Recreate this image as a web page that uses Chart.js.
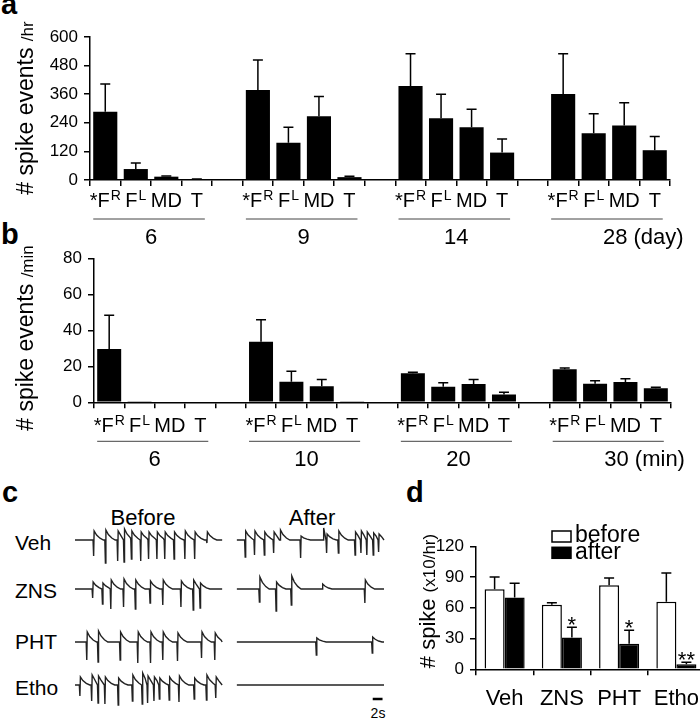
<!DOCTYPE html>
<html>
<head>
<meta charset="utf-8">
<title>spike events</title>
<script src="https://cdn.jsdelivr.net/npm/chart.js@4.4.1/dist/chart.umd.min.js"></script>
<style>
    body { margin: 0; width: 700px; height: 720px; overflow: hidden; background: #fff;
           font-family: "Liberation Sans", Arial, sans-serif; color: #000; position: relative; }
    canvas { position: absolute; }
    .panel { position: absolute; font-weight: bold; font-size: 29px; line-height: 1; }
    .head { position: absolute; transform: translate(-50%, -50%); font-size: 22px; line-height: 1; white-space: nowrap; }
    .row { position: absolute; transform: translateY(-50%); font-size: 21px; line-height: 1; }
</style>
</head>
<body>
<div class="panel" style="left:1px;top:-10px">a</div>
<div class="panel" style="left:1px;top:220px">b</div>
<div class="panel" style="left:2px;top:478px">c</div>
<div class="panel" style="left:406px;top:478px">d</div>

<div class="head" style="left:143px;top:518px">Before</div>
<div class="head" style="left:312px;top:518px">After</div>
<div class="row" style="left:15px;top:542px">Veh</div>
<div class="row" style="left:15px;top:590px">ZNS</div>
<div class="row" style="left:15px;top:641px">PHT</div>
<div class="row" style="left:15px;top:687px">Etho</div>
<div class="head" style="left:378px;top:713px;font-size:14px">2s</div>

<canvas id="chartA" width="700" height="250" style="left:0;top:0"></canvas>
<canvas id="chartB" width="700" height="240" style="left:0;top:240px"></canvas>
<canvas id="chartC" width="400" height="220" style="left:0;top:500px"></canvas>
<canvas id="chartD" width="330" height="250" style="left:390px;top:470px"></canvas>

<script>
"use strict"

/* a: spike events /hr (mean, SE), 6-28 days */
let regions = ["*F^R", "F^L", "MD", "T"];
let dayLabels = ["6", "9", "14", "28 (day)"];
let hrDay6 = [286, 46, 14, 3];
let hrDay9 = [378, 156, 268, 12];
let hrDay14 = [394, 259, 221, 115];
let hrDay28 = [361, 196, 229, 125];
let hrErr6 = [117, 25, 3, 1];
let hrErr9 = [125, 65, 82, 4];
let hrErr14 = [136, 101, 76, 57];
let hrErr28 = [169, 82, 95, 57];
let hrTicks = [0, 120, 240, 360, 480, 600];

/* b: spike events /min, 6-30 min */
let minLabels = ["6", "10", "20", "30 (min)"];
let minT6 = [29.6, 0.3, 0, 0];
let minT10 = [33.7, 11.4, 8.9, 0.3];
let minT20 = [16.1, 8.7, 10.2, 4.4];
let minT30 = [18.3, 10.3, 11.3, 7.8];
let minErr6 = [18.7, 0, 0, 0];
let minErr10 = [12.2, 5.8, 3.7, 0];
let minErr20 = [0.6, 2.2, 2.4, 1.2];
let minErr30 = [0.7, 1.7, 1.8, 0.5];
let minTicks = [0, 20, 40, 60, 80];

/* c: EEG traces, spike times (s) and sizes */
let vehBeforeT = [3.8, 6.2, 8.7, 10.0, 11.5, 13.4, 15.0, 16.7, 18.3, 20.2, 22.4, 24.4, 26.9];
let vehBeforeDown = [16, 23, 21, 22, 19, 21, 19, 19, 19, 19, 19, 19, 3];
let vehBeforeUp = [9, 10, 9, 11, 9, 8, 8, 8, 8, 8, 9, 8, 8];
let vehAfterT = [1.7, 3.6, 5.6, 7.5, 8.8, 13.0, 17.6, 18.3, 20.7, 24.1, 25.3, 26.5, 27.8, 28.9];
let vehAfterDown = [17, 15, 15, 13, 0, 18, 0, 13, 13, 15, 13, 15, 15, 12];
let vehAfterUp = [9, 9, 8, 8, 10, 4, 12, 6, 9, 8, 9, 8, 7, 6];
let znsBeforeT = [3.6, 5.6, 7.3, 9.9, 12.3, 15.3, 17.9, 21.6, 24.1, 25.5];
let znsBeforeDown = [9, 15, 20, 18, 20, 14, 16, 18, 21, 19];
let znsBeforeUp = [7, 6, 9, 10, 9, 8, 9, 8, 9, 6];
let znsAfterT = [4.6, 8.0, 11.1, 17.4, 26.1];
let znsAfterDown = [13, 22, 16, 0, 14];
let znsAfterUp = [12, 7, 13, 5, 9];
let phtBeforeT = [2.4, 4.7, 9.2, 12.8, 15.4, 17.9, 20.9, 25.8, 28.5];
let phtBeforeDown = [18, 20, 18, 21, 21, 18, 19, 16, 18];
let phtBeforeUp = [10, 11, 10, 10, 10, 10, 9, 10, 9];
let phtAfterT = [16.2, 27.6];
let phtAfterDown = [13, 11];
let phtAfterUp = [4, 5];
let ethoBeforeT = [1.0, 3.4, 4.7, 6.1, 8.8, 11.7, 13.7, 14.8, 16.1, 17.2, 19.2, 21.2, 24.3, 26.8, 28.7];
let ethoBeforeDown = [11, 16, 18, 19, 20, 16, 19, 18, 16, 14, 15, 17, 14, 15, 13];
let ethoBeforeUp = [8, 10, 9, 8, 7, 10, 12, 9, 8, 7, 8, 9, 7, 10, 8];
let ethoAfterT = [];
let ethoAfterDown = [];
let ethoAfterUp = [];
let traceSeconds = 30;
let scaleBarSeconds = 2;

/* d: # spike (x10/hr) */
let drugs = ["Veh", "ZNS", "PHT", "Etho"];
let spikeBefore = [78, 63, 82, 66];
let spikeBeforeErr = [12, 2, 7, 28];
let spikeAfter = [70, 31, 25, 5];
let spikeAfterErr = [14, 10, 13, 2];
let afterStars = ["", "*", "*", "**"];
let spikeTicks = [0, 30, 60, 90, 120];


const font = '"Liberation Sans", Arial, sans-serif';
Chart.defaults.font.family = font;
Chart.defaults.color = "#000";
Chart.defaults.animation = false;


// groups of 4 bars with an empty slot between them
function slots(groups, gap) {
    let out = [];
    groups.forEach((g, i) => {
        if (i) out.push(gap);
        out.push(...g);
    });
    return out;
}

function supText(ctx, text, x, y, size) {
    let parts = text.split("^");
    let small = Math.round(size * 0.68);
    ctx.font = size + "px " + font;
    let w1 = ctx.measureText(parts[0]).width;
    let w2 = 0;
    if (parts[1]) {
        ctx.font = small + "px " + font;
        w2 = ctx.measureText(parts[1]).width + 1;
    }
    let left = x - (w1 + w2) / 2;
    ctx.textAlign = "left";
    ctx.textBaseline = "alphabetic";
    ctx.font = size + "px " + font;
    ctx.fillText(parts[0], left, y);
    if (parts[1]) {
        ctx.font = small + "px " + font;
        ctx.fillText(parts[1], left + w1 + 1, y - size * 0.36);
    }
}


let errorBars = {
    id: "errorBars",
    afterDatasetsDraw(chart, args, opts) {
        let ctx = chart.ctx;
        let y = chart.scales.y;
        ctx.save();
        ctx.strokeStyle = "#000";
        ctx.lineWidth = 1.5;
        chart.data.datasets.forEach((ds, i) => {
            let errs = opts.errors[i];
            chart.getDatasetMeta(i).data.forEach((bar, j) => {
                let v = ds.data[j];
                let e = errs[j];
                if (v == null || !e) return;
                let top = y.getPixelForValue(v + e);
                ctx.beginPath();
                ctx.moveTo(bar.x, bar.y);
                ctx.lineTo(bar.x, top);
                ctx.moveTo(bar.x - 5, top);
                ctx.lineTo(bar.x + 5, top);
                ctx.stroke();
                if (opts.stars && opts.stars[i] && opts.stars[i][j]) {
                    ctx.fillStyle = "#000";
                    ctx.font = "22px " + font;
                    ctx.textAlign = "center";
                    ctx.textBaseline = "alphabetic";
                    ctx.fillText(opts.stars[i][j], bar.x, top + 5);
                }
            });
        });
        ctx.restore();
    }
};

let xLabels = {
    id: "xLabels",
    afterDraw(chart, args, opts) {
        let ctx = chart.ctx;
        let x = chart.scales.x;
        let base = chart.chartArea.bottom;
        ctx.save();
        ctx.fillStyle = "#000";
        chart.data.labels.forEach((lab, i) => {
            if (lab) supText(ctx, lab, x.getPixelForTick(i), base + opts.labelY, opts.size);
        });
        if (opts.groups) {
            let n = opts.groupSize;
            opts.groups.forEach((g, k) => {
                let first = k * (n + 1);
                let x1 = x.getPixelForTick(first) - 12;
                let x2 = x.getPixelForTick(first + n - 1) + 8;
                ctx.strokeStyle = "#444";
                ctx.lineWidth = 1;
                ctx.beginPath();
                ctx.moveTo(x1, base + 39);
                ctx.lineTo(x2, base + 39);
                ctx.stroke();

                let mid = (x.getPixelForTick(first) + x.getPixelForTick(first + n - 1)) / 2;
                let sp = g.indexOf(" ");
                ctx.font = "22px " + font;
                ctx.textBaseline = "alphabetic";
                if (sp < 0) {
                    ctx.textAlign = "center";
                    ctx.fillText(g, mid, base + 64);
                } else {
                    ctx.textAlign = "left";
                    ctx.fillText(g, mid - 6, base + 64);
                }
            });
        }
        ctx.restore();
    }
};

let sideTitle = {
    id: "sideTitle",
    afterDraw(chart, args, opts) {
        let ctx = chart.ctx;
        let widths = opts.parts.map(p => {
            ctx.font = p[1] + "px " + font;
            return ctx.measureText(p[0]).width;
        });
        let total = widths.reduce((a, b) => a + b, 0);
        ctx.save();
        ctx.translate(opts.x, opts.y);
        ctx.rotate(-Math.PI / 2);
        ctx.textAlign = "left";
        ctx.textBaseline = "alphabetic";
        ctx.fillStyle = "#000";
        let pos = -total / 2;
        let base = opts.parts[0][1] * 0.35;
        opts.parts.forEach((p, i) => {
            ctx.font = p[1] + "px " + font;
            ctx.fillText(p[0], pos, base);
            pos += widths[i];
        });
        ctx.restore();
    }
};

let boxLegend = {
    id: "boxLegend",
    afterDraw(chart, args, opts) {
        let ctx = chart.ctx;
        let area = chart.chartArea;
        ctx.save();
        chart.data.datasets.forEach((ds, i) => {
            let bx = area.left + opts.x;
            let by = area.top + opts.y + i * opts.step;
            ctx.fillStyle = ds.backgroundColor;
            ctx.fillRect(bx, by, 19, 11);
            ctx.strokeStyle = "#000";
            ctx.lineWidth = 1.5;
            ctx.strokeRect(bx, by, 19, 11);
            ctx.fillStyle = "#000";
            ctx.font = "23px " + font;
            ctx.textAlign = "left";
            ctx.textBaseline = "middle";
            ctx.fillText(ds.label, bx + 23, by + 5);
        });
        ctx.restore();
    }
};


function yAxis(max, step, width) {
    return {
        min: 0,
        max: max,
        afterFit: s => { s.width = width; },
        ticks: { stepSize: step, padding: 6, font: { size: 17 } },
        grid: { drawOnChartArea: false, tickLength: 6, color: "#000", lineWidth: 1.5 },
        border: { color: "#000", width: 1.5 }
    };
}

function xAxis(height) {
    return {
        offset: true,
        afterFit: s => { s.height = height; },
        ticks: { display: false, autoSkip: false },
        grid: { offset: true, drawOnChartArea: false, tickLength: 6, color: "#000", lineWidth: 1.5 },
        border: { color: "#000", width: 1.5 }
    };
}

function groupChart(id, values, errs, labels, groups, maxY, step, yWidth, xHeight, pad, title, labelY) {
    return new Chart(document.getElementById(id), {
        type: "bar",
        data: {
            labels: slots(groups.map(() => regions), ""),
            datasets: [{
                data: slots(values, null),
                backgroundColor: "#000",
                borderWidth: 0,
                categoryPercentage: 1,
                barPercentage: 0.79
            }]
        },
        options: {
            responsive: false,
            layout: { padding: pad },
            scales: { x: xAxis(xHeight), y: yAxis(maxY, step, yWidth) },
            plugins: {
                legend: { display: false },
                tooltip: { enabled: false },
                errorBars: { errors: [slots(errs, null)] },
                xLabels: { labelY: labelY, size: 20, groups: labels, groupSize: regions.length },
                sideTitle: title
            }
        },
        plugins: [errorBars, xLabels, sideTitle]
    });
}

groupChart("chartA",
    [hrDay6, hrDay9, hrDay14, hrDay28],
    [hrErr6, hrErr9, hrErr14, hrErr28],
    dayLabels, dayLabels,
    hrTicks[hrTicks.length - 1], hrTicks[1],
    90, 70, { top: 37, right: 30, left: 0, bottom: 0 },
    { x: 25, y: 108, parts: [["# spike events ", 23], ["/hr", 17]] }, 27);

groupChart("chartB",
    [minT6, minT10, minT20, minT30],
    [minErr6, minErr10, minErr20, minErr30],
    minLabels, minLabels,
    minTicks[minTicks.length - 1], minTicks[1],
    94, 77.7, { top: 18.3, right: 29, left: 0, bottom: 0 },
    { x: 25, y: 98, parts: [["# spike events ", 23], ["/min", 17]] }, 30);


/* c */
function tracePoints(times, downs, ups, start, base) {
    let pts = [{ x: start, y: base }];
    times.forEach((t, i) => {
        let next = i + 1 < times.length ? times[i + 1] - 0.15 : traceSeconds;
        let u = ups[i];
        let shape = [[t - 0.12, 0], [t, -downs[i]], [t + 0.1, u], [t + 0.6, u * 0.55], [t + 1.3, u * 0.2], [t + 2.0, 0]];
        shape.forEach(p => {
            if (p[0] < next) pts.push({ x: start + p[0], y: base + p[1] });
        });
    });
    pts.push({ x: start + traceSeconds, y: base });
    return pts;
}

let rowBase = [-20, -69, -122, -165];
let afterStart = 33;
let traceRows = [
    [vehBeforeT, vehBeforeDown, vehBeforeUp, vehAfterT, vehAfterDown, vehAfterUp],
    [znsBeforeT, znsBeforeDown, znsBeforeUp, znsAfterT, znsAfterDown, znsAfterUp],
    [phtBeforeT, phtBeforeDown, phtBeforeUp, phtAfterT, phtAfterDown, phtAfterUp],
    [ethoBeforeT, ethoBeforeDown, ethoBeforeUp, ethoAfterT, ethoAfterDown, ethoAfterUp]
];
let traceSets = [];
traceRows.forEach((r, i) => {
    traceSets.push({ data: tracePoints(r[0], r[1], r[2], 0, rowBase[i]) });
    traceSets.push({ data: tracePoints(r[3], r[4], r[5], afterStart, rowBase[i]) });
});
let barEnd = afterStart + traceSeconds - 0.3;
traceSets.push({
    data: [{ x: barEnd - scaleBarSeconds, y: -179 }, { x: barEnd, y: -179 }],
    borderColor: "#000",
    borderWidth: 2.5
});

new Chart(document.getElementById("chartC"), {
    type: "line",
    data: { datasets: traceSets },
    options: {
        responsive: false,
        layout: { padding: { left: 75, right: 16, top: 20, bottom: 10 } },
        scales: {
            x: { type: "linear", min: 0, max: afterStart + traceSeconds, display: false },
            y: { min: -190, max: 0, display: false }
        },
        elements: {
            point: { radius: 0 },
            line: { borderWidth: 1.4, borderColor: "#222", tension: 0 }
        },
        datasets: { line: { clip: false } },
        plugins: { legend: { display: false }, tooltip: { enabled: false } }
    }
});


/* d */
new Chart(document.getElementById("chartD"), {
    type: "bar",
    data: {
        labels: drugs,
        datasets: [{
            label: "before",
            data: spikeBefore,
            backgroundColor: "#fff",
            borderColor: "#000",
            borderWidth: 1.5
        }, {
            label: "after",
            data: spikeAfter,
            backgroundColor: "#000",
            borderColor: "#000",
            borderWidth: 1.5
        }]
    },
    options: {
        responsive: false,
        layout: { padding: { top: 76.3, right: 15, left: 0, bottom: 0 } },
        datasets: { bar: { categoryPercentage: 0.7, barPercentage: 1 } },
        scales: {
            x: xAxis(50.7),
            y: yAxis(spikeTicks[spikeTicks.length - 1], spikeTicks[1], 86)
        },
        plugins: {
            legend: { display: false },
            tooltip: { enabled: false },
            errorBars: { errors: [spikeBeforeErr, spikeAfterErr], stars: [null, afterStars] },
            xLabels: { labelY: 36, size: 22 },
            sideTitle: { x: 37, y: 131, parts: [["# spike ", 22], ["(x10/hr)", 17]] },
            boxLegend: { x: 76, y: -15.3, step: 16.3 }
        }
    },
    plugins: [errorBars, xLabels, sideTitle, boxLegend]
});
</script>
</body>
</html>
